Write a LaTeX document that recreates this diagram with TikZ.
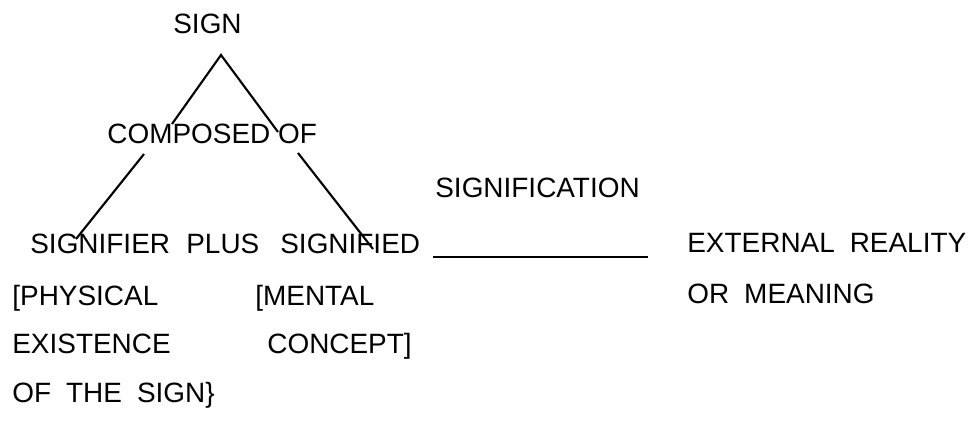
\documentclass[tikz,border=0pt]{standalone}
\usepackage{fontspec}
\setmainfont{Liberation Sans}
\usepackage{tikz}

\newcommand{\gap}{\hspace{0.3cm}}

\begin{document}
\begin{tikzpicture}[x=0.02cm,y=-0.02cm]
\tikzstyle{every node}+=[inner sep=0pt,anchor=base west,font=\fontsize{15.9}{19}\selectfont]
\useasboundingbox (0,0) rectangle (969,420);
\node (sign) at (173,33) {SIGN};
\node (composed) at (107,143) {COMPOSED OF};
\node (signification) at (435,197) {SIGNIFICATION};
\node (signifier) at (30,253) {SIGNIFIER};
\node (plus) at (186,253) {PLUS};
\node (signified) at (280,253) {SIGNIFIED};
\node (external) at (687,252) {EXTERNAL\gap REALITY};
\node (meaning) at (687,303) {OR\gap MEANING};
\node (physical) at (12,305) {[PHYSICAL};
\node (existence) at (12,353) {EXISTENCE};
\node (ofsign) at (12,402) {OF\gap THE\gap SIGN\}};
\node (mental) at (255,305) {[MENTAL};
\node (concept) at (267,353) {CONCEPT]};
\coordinate (apex) at (221,55);
\coordinate (c1) at (172,124);
\coordinate (c2) at (278,132);
\coordinate (c3) at (144,154);
\coordinate (c4) at (298,153);
\coordinate (s1) at (76,239);
\coordinate (s2) at (373,249);
\coordinate (l1) at (433,257);
\coordinate (l2) at (648,257);
\draw [black,line width=1.2pt] (c1) -- (apex) -- (c2);
\draw [black,line width=1.2pt] (c3) -- (s1);
\draw [black,line width=1.2pt] (c4) -- (s2);
\draw [black,line width=1pt] (l1) -- (l2);
\end{tikzpicture}
\end{document}
